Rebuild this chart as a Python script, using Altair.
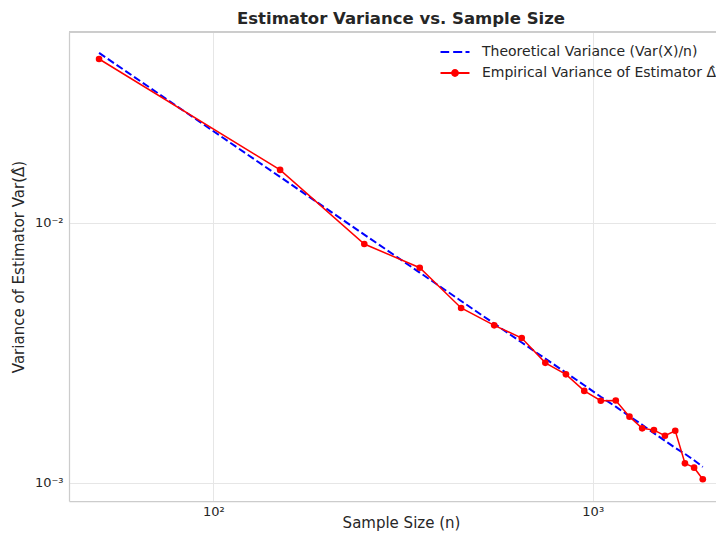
import altair as alt
import pandas as pd

# ---- data ----
n_values = [50, 150, 250, 350, 450, 550, 650, 750, 850, 950,
            1050, 1150, 1250, 1350, 1450, 1550, 1650, 1750, 1850, 1950]
theoretical = [0.0450, 0.0150, 0.0090, 0.00643, 0.0050, 0.00409, 0.00346, 0.0030,
               0.00265, 0.00237, 0.00214, 0.00196, 0.0018, 0.00167, 0.00155,
               0.00145, 0.00136, 0.00129, 0.00122, 0.00115]
empirical = [0.04262, 0.01596, 0.00828, 0.00671, 0.00470, 0.00403, 0.00360, 0.00289,
             0.00261, 0.002254, 0.002067, 0.00207, 0.001795, 0.001618, 0.001593,
             0.001515, 0.001584, 0.001187, 0.001142, 0.001031]
series_names = ["Theoretical Variance (Var(X)/n)", "Empirical Variance of Estimator Δ̂"]
series_colors = ["#0000ff", "#ff0000"]
x_ticks = [100, 1000]
y_ticks = [0.001, 0.01]
chart_title = "Estimator Variance vs. Sample Size"

theo_df = pd.DataFrame({"n": n_values, "v": theoretical, "series": series_names[0]})
emp_df = pd.DataFrame({"n": n_values, "v": empirical, "series": series_names[1]})
title_df = pd.DataFrame({"t": [chart_title]})

W, H = 647, 469
TXT = "#262626"

x_enc = alt.X("n:Q",
              scale=alt.Scale(type="log", domain=[41.66, 2113], nice=False),
              axis=alt.Axis(values=x_ticks, labelExpr="datum.value == 100 ? '10²' : '10³'",
                            title="Sample Size (n)", ticks=False, labelPadding=4,
                            labelFontSize=13, titleFontSize=15,
                            titlePadding=-3, titleX=332, labelFlush=False))
y_enc = alt.Y("v:Q",
              scale=alt.Scale(type="log", domain=[0.0008502, 0.05414], nice=False),
              axis=alt.Axis(values=y_ticks, labelExpr="datum.value < 0.005 ? '10⁻³' : '10⁻²'",
                            title="Variance of Estimator Var(Δ̂)", ticks=False, labelPadding=6,
                            labelFontSize=13, titleFontSize=15,
                            titlePadding=8, labelFlush=False))

theo_line = alt.Chart(theo_df).mark_line(
    color=series_colors[0], strokeWidth=2, strokeDash=[7.4, 3.2]
).encode(x=x_enc, y=y_enc)

emp_line = alt.Chart(emp_df).mark_line(
    color=series_colors[1], strokeWidth=1.5
).encode(x=x_enc, y=y_enc)

emp_pts = alt.Chart(emp_df).mark_circle(
    color=series_colors[1], size=44, opacity=1
).encode(x=x_enc, y=y_enc)

# legend glyphs (unit = 7 px): dashed line, and line with a dot
dash_path = "M-2.07,0H-0.83M-0.26,0H1.03M1.5,0H2.07"
dot_path = ("M-2.07,0H2.07"
            "M-0.43,0A0.43,0.43,0,1,1,0.43,0A0.43,0.43,0,1,1,-0.43,0"
            "M-0.32,0A0.32,0.32,0,1,1,0.32,0A0.32,0.32,0,1,1,-0.32,0"
            "M-0.21,0A0.21,0.21,0,1,1,0.21,0A0.21,0.21,0,1,1,-0.21,0"
            "M-0.1,0A0.1,0.1,0,1,1,0.1,0A0.1,0.1,0,1,1,-0.1,0")

leg = alt.Legend(title=None, orient="none", legendX=378, legendY=12,
                 symbolSize=196, symbolStrokeWidth=1.8, symbolOpacity=1,
                 labelFontSize=14, labelColor=TXT, labelFont="DejaVu Sans",
                 labelLimit=0, labelOffset=19, rowPadding=6, padding=0)

legend_layer = alt.Chart(emp_df).mark_point(size=1, filled=False, strokeWidth=0.01, opacity=0).encode(
    x=x_enc, y=y_enc,
    color=alt.Color("series:N", scale=alt.Scale(domain=series_names, range=series_colors), legend=leg),
    shape=alt.Shape("series:N", scale=alt.Scale(domain=series_names, range=[dash_path, dot_path]), legend=leg),
)

top_spine = alt.Chart(emp_df).mark_rule(color="#cccccc", strokeWidth=1.25).encode(
    x=alt.value(0), x2=alt.value(W), y=alt.value(0))

title_text = alt.Chart(title_df).mark_text(
    fontSize=16.5, fontWeight="bold", font="DejaVu Sans", color=TXT,
    align="center", baseline="alphabetic"
).encode(text="t:N", x=alt.value(332), y=alt.value(-8.5))

chart = alt.layer(theo_line, emp_line, emp_pts, legend_layer, top_spine, title_text).properties(
    width=W, height=H,
    autosize=alt.AutoSizeParams(type="none"),
    padding={"left": 61, "top": 24, "right": 0, "bottom": 30},
).configure_view(stroke=None).configure_axis(
    grid=True, gridColor="#e6e6e6", gridWidth=1,
    domainColor="#cccccc", domainWidth=1.25,
    labelFont="DejaVu Sans", labelColor=TXT,
    titleFont="DejaVu Sans", titleColor=TXT, titleFontWeight="normal",
)

chart.save("out.html", embed_options={"renderer": "svg", "actions": False})
